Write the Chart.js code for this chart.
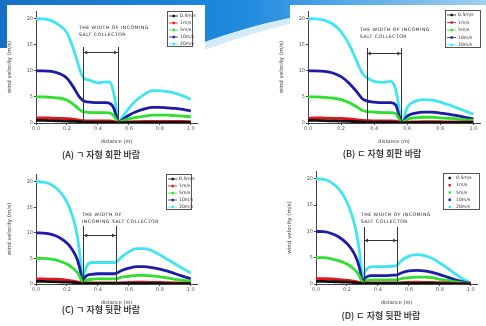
<!DOCTYPE html>
<html>
<head>
<meta charset="utf-8">
<script src="https://cdn.jsdelivr.net/npm/chart.js@4.4.1/dist/chart.umd.min.js"></script>
<style>
html, body { margin: 0; padding: 0; background: #fff; }
body { width: 486px; height: 326px; position: relative; overflow: hidden; font-family: "Noto Sans CJK KR", sans-serif; }
#deco { position: absolute; left: 0; top: 0; }
canvas { position: absolute; }
.cap { position: absolute; font-size: 9px; font-weight: 500; line-height: 1; color: #1a1a1a; white-space: nowrap; transform: translateX(-50%); }
</style>
</head>
<body>
<svg id="deco" width="486" height="60">
  <defs>
    <linearGradient id="bg" x1="0" y1="0" x2="1" y2="0">
      <stop offset="0" stop-color="#1670c4"/>
      <stop offset="0.5" stop-color="#1f8ade"/>
      <stop offset="1" stop-color="#9fd0f2"/>
    </linearGradient>
  </defs>
  <path d="M0,0 L486,0 L486,5 L290,5 L290,18 Q250,26 205,42 L205,5 L7,5 L7,48 L0,48 Z" fill="url(#bg)"/>
  <path d="M205,42 Q250,26 290,18 L290,24 Q250,33 205,50 Z" fill="#d6ebf9"/>
</svg>
<canvas id="cA"></canvas>
<canvas id="cB"></canvas>
<canvas id="cC"></canvas>
<canvas id="cD"></canvas>
<div class="cap" style="left:101px;top:150px">(A) ㄱ 자형 회판 바람</div>
<div class="cap" style="left:382px;top:149px">(B) ㄷ 자형 회판 바람</div>
<div class="cap" style="left:101px;top:305px">(C) ㄱ 자형 뒷판 바람</div>
<div class="cap" style="left:381px;top:311px">(D) ㄷ 자형 뒷판 바람</div>
<script>
const seriesLabels = ['0.5m/s', '1m/s', '5m/s', '10m/s', '20m/s'];
const colors = ['#111111', '#e5151c', '#2fe02f', '#1c1ca8', '#3fe6f2'];
const xTicks = [0, 0.2, 0.4, 0.6, 0.8, 1.0];
const yTicks = [0, 5, 10, 15, 20];

// (A)
const distA = [0, 0.05, 0.1, 0.15, 0.2, 0.25, 0.28, 0.3, 0.32, 0.35, 0.4, 0.45, 0.48, 0.5, 0.52, 0.53, 0.56, 0.6, 0.65, 0.7, 0.75, 0.8, 0.85, 0.9, 0.95, 1.0];
const v05A = [0.5, 0.5, 0.45, 0.4, 0.35, 0.3, 0.25, 0.2, 0.18, 0.15, 0.15, 0.15, 0.15, 0.12, 0.05, 0, 0.05, 0.1, 0.1, 0.1, 0.1, 0.1, 0.1, 0.1, 0.1, 0.1];
const v1A = [1, 1, 0.95, 0.9, 0.85, 0.7, 0.55, 0.45, 0.4, 0.4, 0.4, 0.4, 0.4, 0.3, 0.1, 0, 0.1, 0.2, 0.25, 0.3, 0.3, 0.3, 0.3, 0.3, 0.3, 0.25];
const v5A = [5, 5, 4.9, 4.8, 4.4, 3.4, 2.6, 2.2, 2.1, 2, 2, 2, 1.9, 1.5, 0.6, 0, 0.4, 0.8, 1.1, 1.3, 1.5, 1.5, 1.5, 1.4, 1.3, 1.2];
const v10A = [10, 10, 9.9, 9.5, 8.6, 6.5, 5, 4.4, 4.1, 4, 3.9, 3.9, 3.7, 3, 1.2, 0, 0.7, 1.5, 2.2, 2.7, 3, 3, 2.9, 2.8, 2.6, 2.3];
const v20A = [20, 20, 19.6, 18.8, 17.3, 13.5, 10.5, 9, 8.4, 8.2, 7.7, 7.9, 7.8, 6, 2.5, 0, 1.2, 2.8, 4.4, 5.5, 6.2, 6.2, 6, 5.7, 5.2, 4.5];

// (B)
const distB = [0, 0.05, 0.1, 0.15, 0.2, 0.25, 0.3, 0.33, 0.36, 0.4, 0.45, 0.5, 0.53, 0.55, 0.565, 0.6, 0.65, 0.7, 0.75, 0.8, 0.85, 0.9, 0.95, 1.0];
const v05B = [0.5, 0.5, 0.45, 0.4, 0.35, 0.3, 0.25, 0.2, 0.15, 0.15, 0.15, 0.15, 0.12, 0.05, 0, 0.05, 0.1, 0.1, 0.1, 0.1, 0.1, 0.1, 0.1, 0.1];
const v1B = [0.9, 1, 0.95, 0.9, 0.9, 0.8, 0.6, 0.5, 0.45, 0.4, 0.4, 0.4, 0.35, 0.2, 0, 0.15, 0.2, 0.25, 0.25, 0.25, 0.2, 0.2, 0.2, 0.2];
const v5B = [5, 5, 4.9, 4.8, 4.5, 3.9, 3, 2.4, 2.2, 2.1, 2, 2, 1.8, 0.8, 0, 0.7, 1, 1.1, 1.1, 1, 0.9, 0.8, 0.6, 0.5];
const v10B = [10, 10, 9.9, 9.6, 8.9, 7.6, 5.8, 4.6, 4.2, 4, 3.9, 3.9, 3.5, 1.5, 0, 1.3, 1.9, 2.1, 2.1, 1.9, 1.7, 1.4, 1.1, 0.8];
const v20B = [20, 20, 19.7, 19, 17.5, 15, 11.5, 9.5, 8.6, 8, 7.8, 8, 6.5, 3, 0, 3, 4.2, 4.5, 4.4, 4, 3.5, 2.9, 2.3, 1.7];

// (C)
const distC = [0, 0.05, 0.1, 0.15, 0.2, 0.23, 0.25, 0.27, 0.29, 0.3, 0.31, 0.33, 0.36, 0.4, 0.45, 0.5, 0.52, 0.55, 0.6, 0.65, 0.7, 0.75, 0.8, 0.85, 0.9, 0.95, 1.0];
const v05C = [0.5, 0.5, 0.45, 0.4, 0.35, 0.3, 0.25, 0.2, 0.1, 0, 0.05, 0.1, 0.1, 0.1, 0.1, 0.1, 0.1, 0.1, 0.1, 0.1, 0.1, 0.1, 0.1, 0.08, 0.06, 0.05, 0.05];
const v1C = [1, 1, 0.95, 0.9, 0.75, 0.6, 0.5, 0.4, 0.15, 0, 0.1, 0.2, 0.2, 0.2, 0.2, 0.2, 0.2, 0.25, 0.3, 0.35, 0.35, 0.3, 0.3, 0.25, 0.2, 0.15, 0.1];
const v5C = [5, 5, 4.85, 4.5, 3.9, 3.3, 2.8, 2.1, 1, 0, 0.5, 0.8, 0.9, 1, 1, 1, 1, 1.3, 1.5, 1.7, 1.7, 1.6, 1.4, 1.2, 0.9, 0.7, 0.5];
const v10C = [10, 9.95, 9.7, 9.1, 8, 6.9, 5.9, 4.5, 2, 0, 1, 1.7, 1.9, 2, 2, 2, 2.1, 2.6, 3.1, 3.4, 3.4, 3.2, 2.9, 2.5, 2, 1.5, 1];
const v20C = [20, 19.9, 19.4, 18.2, 16, 13.8, 11.8, 8.8, 4, 0, 2, 3.6, 4.2, 4.2, 4.2, 4.2, 4.3, 5.2, 6.3, 6.9, 6.9, 6.5, 5.7, 4.8, 3.9, 3, 2.2];

// (D)
const distD = [0, 0.05, 0.1, 0.15, 0.2, 0.23, 0.25, 0.27, 0.29, 0.3, 0.31, 0.33, 0.36, 0.4, 0.45, 0.5, 0.52, 0.55, 0.6, 0.65, 0.7, 0.75, 0.8, 0.85, 0.9, 0.95, 1.0];
const v05D = [0.5, 0.5, 0.45, 0.4, 0.35, 0.3, 0.25, 0.2, 0.1, 0, 0.05, 0.1, 0.1, 0.1, 0.1, 0.1, 0.1, 0.1, 0.1, 0.1, 0.1, 0.1, 0.08, 0.05, 0.03, 0.02, 0];
const v1D = [1, 1, 0.95, 0.85, 0.7, 0.6, 0.5, 0.35, 0.15, 0, 0.1, 0.2, 0.2, 0.2, 0.2, 0.2, 0.2, 0.25, 0.3, 0.35, 0.3, 0.3, 0.25, 0.2, 0.1, 0.05, 0];
const v5D = [5, 5, 4.8, 4.4, 3.8, 3.2, 2.7, 2, 0.9, 0, 0.4, 0.7, 0.8, 0.8, 0.8, 0.8, 0.8, 1, 1.2, 1.3, 1.3, 1.2, 0.9, 0.7, 0.4, 0.2, 0.05];
const v10D = [10, 9.95, 9.6, 8.9, 7.7, 6.6, 5.6, 4.2, 1.8, 0, 0.9, 1.4, 1.6, 1.6, 1.6, 1.7, 1.7, 2.1, 2.5, 2.6, 2.5, 2.2, 1.8, 1.3, 0.8, 0.4, 0.1];
const v20D = [20, 19.9, 19.3, 18, 15.6, 13.3, 11.2, 8.3, 3.8, 0, 1.8, 2.9, 3.3, 3.3, 3.3, 3.4, 3.5, 4.4, 5.3, 5.6, 5.4, 4.9, 4, 3, 1.9, 0.9, 0.2];

// draws axis titles, the collector annotation and the boxed legend
const decor = {
  id: 'decor',
  afterDraw(chart, args, o) {
    const ctx = chart.ctx, ca = chart.chartArea, xs = chart.scales.x;
    ctx.save();
    ctx.fillStyle = '#333';
    ctx.font = '5px "DejaVu Sans"';
    ctx.textAlign = 'center';
    ctx.textBaseline = 'middle';
    ctx.fillText('distance (m)', (ca.left + ca.right) / 2, ca.bottom + 19);
    ctx.save();
    ctx.translate(ca.left - 26, (ca.top + ca.bottom) / 2);
    ctx.rotate(-Math.PI / 2);
    ctx.font = '5.5px "DejaVu Sans"';
    ctx.fillText('wind velocity (m/s)', 0, 0);
    ctx.restore();

    // collector width
    const a = o.ann;
    const px1 = xs.getPixelForValue(a.x1), px2 = xs.getPixelForValue(a.x2);
    const yl = a.yLine - o.offY, ya = a.yArrow - o.offY;
    ctx.strokeStyle = '#333';
    ctx.lineWidth = 1;
    ctx.beginPath();
    ctx.moveTo(Math.round(px1) + 0.5, yl); ctx.lineTo(Math.round(px1) + 0.5, ca.bottom);
    ctx.moveTo(Math.round(px2) + 0.5, yl); ctx.lineTo(Math.round(px2) + 0.5, ca.bottom);
    ctx.moveTo(px1, Math.round(ya) + 0.5); ctx.lineTo(px2, Math.round(ya) + 0.5);
    ctx.stroke();
    ctx.fillStyle = '#333';
    ctx.beginPath();
    ctx.moveTo(px1 + 1, ya + 0.5); ctx.lineTo(px1 + 4, ya - 1.5); ctx.lineTo(px1 + 4, ya + 2.5); ctx.closePath();
    ctx.moveTo(px2 - 1, ya + 0.5); ctx.lineTo(px2 - 4, ya - 1.5); ctx.lineTo(px2 - 4, ya + 2.5); ctx.closePath();
    ctx.fill();
    ctx.textAlign = 'left';
    ctx.font = '4.6px "DejaVu Sans"';
    ctx.letterSpacing = '0.5px';
    ctx.fillStyle = '#222';
    a.text.forEach((t, i) => ctx.fillText(t, a.tx - o.offX, a.ty - o.offY + i * 7));
    ctx.letterSpacing = '0px';

    // legend
    const lg = o.legend;
    const lx = lg.x - o.offX, ly = lg.y - o.offY;
    ctx.fillStyle = '#fff';
    ctx.fillRect(lx, ly, lg.w, lg.h);
    ctx.strokeStyle = '#555';
    ctx.strokeRect(lx + 0.5, ly + 0.5, lg.w - 1, lg.h - 1);
    ctx.font = '4.6px "DejaVu Sans"';
    chart.data.datasets.forEach((ds, i) => {
      const cy = ly + 5 + i * (lg.h - 8) / 4;
      ctx.strokeStyle = ds.borderColor;
      ctx.fillStyle = ds.borderColor;
      if (lg.lines) {
        ctx.lineWidth = 0.8;
        ctx.beginPath(); ctx.moveTo(lx + 2, cy); ctx.lineTo(lx + 11, cy); ctx.stroke();
      }
      ctx.fillRect(lx + 5.5, cy - 1.2, 2.4, 2.4);
      ctx.fillStyle = '#333';
      ctx.fillText(ds.label, lx + 13, cy);
    });
    ctx.restore();
  }
};

function panel(id, area, dist, series, deco) {
  const cv = document.getElementById(id);
  const L = area.l - 34, T = area.t - 4;
  const W = area.r - area.l + 38, H = area.b - area.t + 30;
  cv.style.left = L + 'px';
  cv.style.top = T + 'px';
  cv.width = W; cv.height = H;
  cv.style.width = W + 'px'; cv.style.height = H + 'px';
  deco.offX = L; deco.offY = T;
  new Chart(cv, {
    type: 'line',
    data: {
      datasets: series.map((vals, i) => ({
        label: seriesLabels[i],
        data: dist.map((d, j) => ({x: d, y: vals[j]})),
        borderColor: colors[i],
        backgroundColor: colors[i],
        borderWidth: 2.8,
        pointRadius: 0,
        cubicInterpolationMode: 'monotone',
        fill: false
      }))
    },
    options: {
      responsive: false,
      animation: false,
      layout: {padding: {left: 0, top: 4, right: 4, bottom: 0}},
      plugins: {legend: {display: false}, tooltip: {enabled: false}, decor: deco},
      scales: {
        x: {
          type: 'linear', min: 0, max: 1.04,
          afterBuildTicks: s => { s.ticks = xTicks.map(v => ({value: v})); },
          afterFit: s => { s.height = 26; },
          ticks: {font: {size: 5, family: 'DejaVu Sans'}, color: '#555', padding: 1, maxRotation: 0, autoSkip: false, callback: v => v.toFixed(1)},
          grid: {display: true, drawOnChartArea: false, tickLength: 2, color: '#444'},
          border: {color: '#444'}
        },
        y: {
          min: 0, max: 21.5,
          afterBuildTicks: s => { s.ticks = yTicks.map(v => ({value: v})); },
          afterFit: s => { s.width = 34; },
          ticks: {font: {size: 5, family: 'DejaVu Sans'}, color: '#555', padding: 1, autoSkip: false},
          grid: {display: true, drawOnChartArea: false, tickLength: 2, color: '#444'},
          border: {color: '#444'}
        }
      }
    },
    plugins: [decor]
  });
}

panel('cA', {l: 36, r: 197, t: 11, b: 123}, distA, [v05A, v1A, v5A, v10A, v20A], {
  ann: {x1: 0.305, x2: 0.53, yLine: 47, yArrow: 52, text: ['THE WIDTH OF INCOMING', 'SALT COLLECTOR'], tx: 79, ty: 28},
  legend: {x: 167, y: 11, w: 26, h: 36, lines: true}
});
panel('cB', {l: 308, r: 480, t: 11, b: 123}, distB, [v05B, v1B, v5B, v10B, v20B], {
  ann: {x1: 0.355, x2: 0.565, yLine: 48, yArrow: 53, text: ['THE WIDTH OF INCOMING', 'SALT COLLECTOR'], tx: 360, ty: 30},
  legend: {x: 445, y: 10, w: 36, h: 38, lines: true}
});
panel('cC', {l: 36, r: 197, t: 174, b: 284}, distC, [v05C, v1C, v5C, v10C, v20C], {
  ann: {x1: 0.305, x2: 0.517, yLine: 226, yArrow: 235, text: ['THE WIDTH OF', 'INCOMING SALT COLLECTOR'], tx: 82, ty: 215},
  legend: {x: 166, y: 174, w: 26, h: 36, lines: true}
});
panel('cD', {l: 316, r: 477, t: 171, b: 284}, distD, [v05D, v1D, v5D, v10D, v20D], {
  ann: {x1: 0.31, x2: 0.525, yLine: 227, yArrow: 240, text: ['THE WIDTH OF INCOMING', 'SALT COLLECTOR'], tx: 361, ty: 215},
  legend: {x: 443, y: 173, w: 37, h: 37, lines: false}
});
</script>
</body>
</html>
